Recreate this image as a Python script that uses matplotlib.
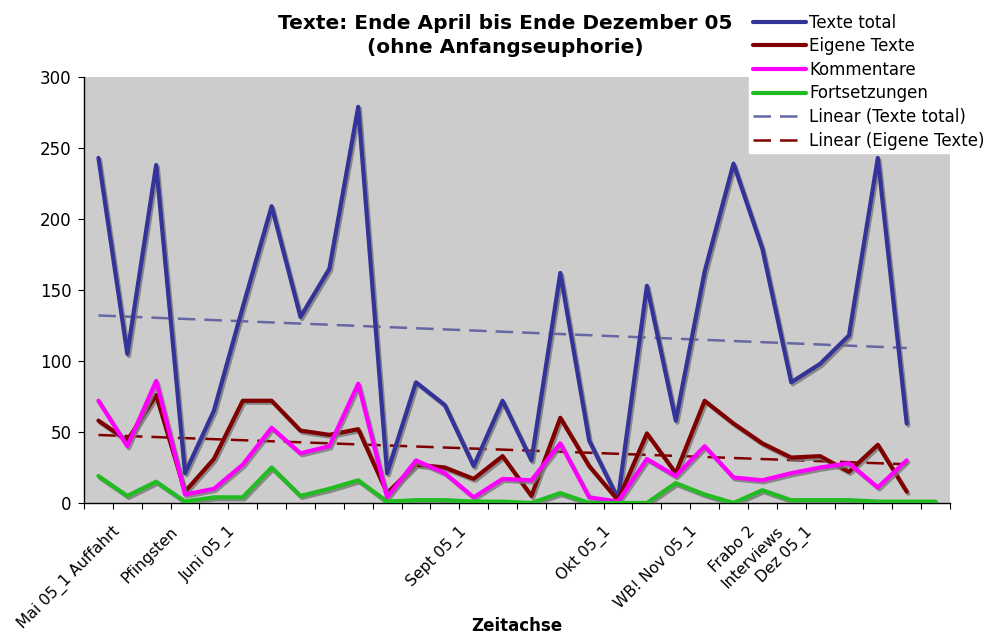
import numpy as np
import matplotlib
matplotlib.use("Agg")
import matplotlib.pyplot as plt
import matplotlib.patheffects as pe
from matplotlib.transforms import ScaledTranslation

# category labels (most categories have no label)
categories = [""] * 30
categories[0] = "Mai 05_1 Auffahrt"
categories[2] = "Pfingsten"
categories[4] = "Juni 05_1"
categories[12] = "Sept 05_1"
categories[17] = "Okt 05_1"
categories[20] = "WB! Nov 05_1"
categories[22] = "Frabo 2"
categories[23] = "Interviews"
categories[24] = "Dez 05_1"

texte_total = [243, 105, 238, 21, 65, 138, 209, 131, 165, 279, 21, 85, 69, 26, 72,
               30, 162, 44, 3, 153, 58, 163, 239, 179, 85, 98, 118, 243, 56]
eigene_texte = [58, 44, 76, 8, 31, 72, 72, 51, 48, 52, 7, 27, 25, 17, 33,
                5, 60, 26, 2, 49, 21, 72, 56, 42, 32, 33, 22, 41, 8]
kommentare = [72, 40, 86, 6, 10, 27, 53, 35, 40, 84, 4, 30, 21, 4, 17,
              16, 42, 4, 1, 31, 19, 40, 18, 16, 21, 25, 28, 11, 30]
fortsetzungen = [19, 5, 15, 1, 4, 4, 25, 5, 10, 16, 1, 2, 2, 1, 1,
                 0, 7, 0, 0, 0, 14, 6, 0, 9, 2, 2, 2, 1, 1, 1]

fig = plt.figure(figsize=(9.86, 6.34), dpi=100)
ax = fig.add_axes([84 / 986, 131 / 634, 866 / 986, 426 / 634])
ax.set_facecolor("#cccccc")

shadow = [pe.SimpleLineShadow(offset=(1.2, -1.5), shadow_color="#777777", alpha=0.8), pe.Normal()]

series = [
    ("Texte total", texte_total, "#333399"),
    ("Eigene Texte", eigene_texte, "#800000"),
    ("Kommentare", kommentare, "#ff00ff"),
    ("Fortsetzungen", fortsetzungen, "#22bb22"),
]
handles = []
for name, vals, col in series:
    x = np.arange(len(vals))
    ln, = ax.plot(x, vals, color=col, lw=3.0, solid_joinstyle="round",
                  solid_capstyle="round", label=name, zorder=3)
    ln.set_path_effects(shadow)
    handles.append(ln)

# linear trend lines
for name, vals, col in [("Linear (Texte total)", texte_total, "#6667a3"),
                        ("Linear (Eigene Texte)", eigene_texte, "#800000")]:
    x = np.arange(len(vals))
    m, b = np.polyfit(x, vals, 1)
    ln, = ax.plot(x, m * x + b, color=col, lw=1.8, dashes=(7, 3.6), label=name, zorder=2)
    handles.append(ln)

ax.set_xlim(-0.5, 29.5)
ax.set_ylim(0, 300)
ax.set_yticks(np.arange(0, 301, 50))
ax.set_xticks(np.arange(-0.5, 30, 1))
ax.set_xticklabels([""] + categories, rotation=45, ha="right", va="center",
                   rotation_mode="anchor")
ax.tick_params(axis="x", direction="out", length=4, pad=15, labelsize=11.2)
ax.tick_params(axis="y", direction="out", length=4, pad=5, labelsize=12)
shift = ScaledTranslation(0.045, 0, fig.dpi_scale_trans)
for lab in ax.get_xticklabels():
    lab.set_transform(lab.get_transform() + shift)
for s in ["top", "right"]:
    ax.spines[s].set_visible(False)
for s in ["left", "bottom"]:
    ax.spines[s].set_linewidth(1.0)

ax.set_xlabel("Zeitachse", fontsize=12, fontweight="bold")
ax.xaxis.set_label_coords(0.5, -0.267)

fig.text(0.512, 0.978, "Texte: Ende April bis Ende Dezember 05\n(ohne Anfangseuphorie)",
         ha="center", va="top", fontsize=14.5, fontweight="bold", linespacing=1.32)

leg = fig.legend(handles=handles, loc="upper left", bbox_to_anchor=(749 / 986, 1 - 10 / 634),
                 fontsize=12, frameon=True, fancybox=False, framealpha=1.0, handlelength=3.2,
                 handletextpad=0.2, labelspacing=0.335, borderpad=0.22, borderaxespad=0.0)
leg.get_frame().set_facecolor("white")
leg.get_frame().set_edgecolor("white")
for h in leg.legend_handles:
    h.set_path_effects([])

fig.savefig("out.png", dpi=100)
